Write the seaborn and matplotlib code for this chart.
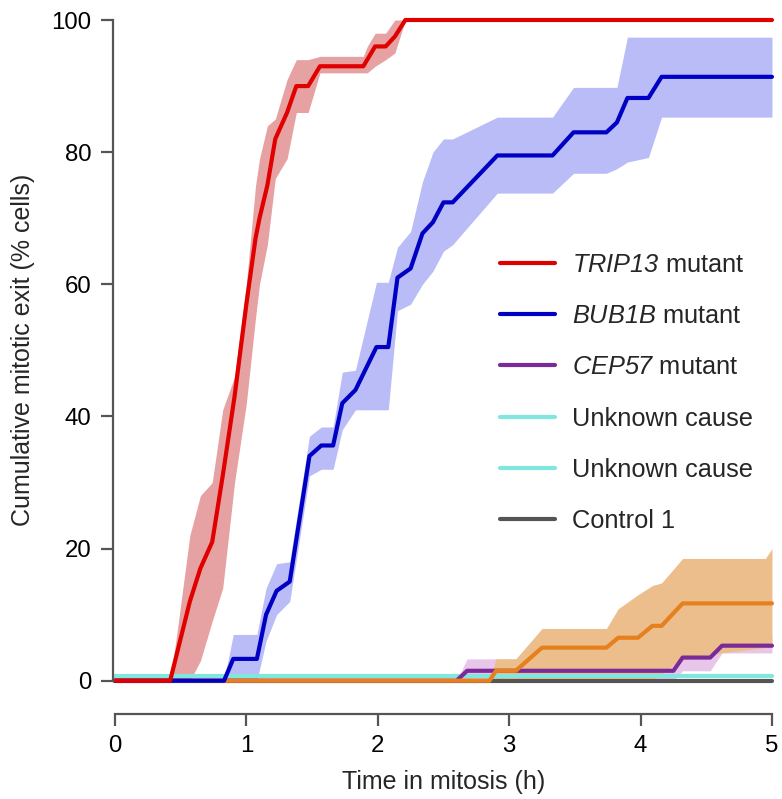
import pandas as pd
import seaborn as sns
import matplotlib.pyplot as plt

# TRIP13 mutant
trip_x = [0, 0.42, 0.47, 0.57, 0.65, 0.74, 0.82, 0.91, 1.0, 1.07, 1.10, 1.16, 1.22, 1.31, 1.38, 1.47, 1.56, 1.89, 1.92, 1.98, 2.06, 2.13, 2.21, 5.0]
trip_y = [0, 0, 4, 12, 17, 21, 31, 43, 57, 67, 70, 75, 82, 86, 90, 90, 93, 93, 94, 96, 96, 97.5, 100, 100]
trip_lo = [0, 0, 0, 0, 3, 9, 14, 30, 42, 55, 60, 66, 76, 79, 86, 86, 92, 92, 92, 93, 94, 95, 100, 100]
trip_hi = [0, 0, 7, 22, 28, 30, 41, 46, 60, 75, 79, 84, 85, 91, 94, 94, 94.5, 94.5, 96, 98, 98, 100, 100, 100]

# BUB1B mutant
bub_x = [0, 0.83, 0.90, 1.08, 1.15, 1.23, 1.33, 1.48, 1.57, 1.66, 1.73, 1.83, 1.99, 2.08, 2.15, 2.25, 2.34, 2.42, 2.50, 2.57, 2.91, 3.33, 3.49, 3.74, 3.82, 3.90, 4.06, 4.16, 5.0]
bub_y = [0, 0, 3.3, 3.3, 10, 13.6, 15, 34, 35.6, 35.6, 42, 44, 50.5, 50.5, 61, 62.4, 67.7, 69.4, 72.4, 72.4, 79.5, 79.5, 83, 83, 84.5, 88.2, 88.2, 91.4, 91.4]
bub_lo = [0, 0, 0, 0, 6, 10, 12, 31, 32, 32, 38, 41, 41, 41, 56, 57, 60, 62, 65, 66, 73.8, 73.8, 76.8, 76.8, 77.5, 78.5, 79.2, 85.3, 85.3]
bub_hi = [0, 0, 7, 7, 14, 17.7, 18, 37, 38.4, 38.4, 46.7, 47, 60.3, 60.3, 65.6, 68, 75.5, 80, 82, 82, 85.3, 85.3, 89.8, 89.8, 89.8, 97.4, 97.4, 97.4, 97.4]

# CEP57 mutant
cep_x = [0, 2.60, 2.68, 4.25, 4.32, 4.53, 4.62, 5.0]
cep_y = [0, 0, 1.5, 1.5, 3.5, 3.5, 5.3, 5.3]
cep_lo = [0, 0, 0, 0, 1.5, 1.5, 4.2, 4.2]
cep_hi = [0, 0, 3.3, 3.3, 5, 5, 6.5, 6.5]

# Unknown cause (orange)
unk_x = [0, 2.85, 2.90, 3.05, 3.25, 3.74, 3.83, 3.98, 4.09, 4.16, 4.32, 4.95, 5.0]
unk_y = [0, 0, 1.5, 1.5, 5, 5, 6.5, 6.5, 8.3, 8.3, 11.7, 11.7, 11.7]
unk_lo = [0, 0, 0, 0, 0, 0, 0, 0, 0, 1, 3.5, 5, 5]
unk_hi = [0, 0, 3.3, 3.3, 7.9, 7.9, 10.9, 13, 14.4, 14.8, 18.5, 18.5, 20]

# Unknown cause (cyan) and Control 1
flat_x = [0, 5.0]
cyan_y = [0.7, 0.7]
ctrl_y = [0, 0]

labels = [r"$TRIP13$ mutant", r"$BUB1B$ mutant", r"$CEP57$ mutant",
          "Unknown cause", "Unknown cause", "Control 1"]

sns.set_style("ticks")
plt.rcParams["font.family"] = ["Liberation Sans", "DejaVu Sans"]
plt.rcParams["mathtext.fontset"] = "custom"
plt.rcParams["mathtext.it"] = "Liberation Sans:italic"
plt.rcParams["mathtext.rm"] = "Liberation Sans:italic"

fig = plt.figure(figsize=(7.82, 7.99), dpi=100)
ax = fig.add_axes([113 / 782, 1 - 687.3 / 799, (774.6 - 113) / 782, (687.3 - 13.4) / 799])

lw = 3.0
# bands
ax.fill_between(cep_x, cep_lo, cep_hi, color="#e8c6ea", lw=0, zorder=1)
ax.fill_between(unk_x, unk_lo, unk_hi, color="#ecbe8c", lw=0, zorder=1.1)
ax.fill_between(bub_x, bub_lo, bub_hi, color="#b9bcf7", lw=0, zorder=1.2)
ax.fill_between(trip_x, trip_lo, trip_hi, color="#e6a2a2", lw=0, zorder=1.3)

series = [
    (flat_x, ctrl_y, "#555555", labels[5], 2),
    (flat_x, cyan_y, "#80e6de", labels[4], 2.1),
    (cep_x, cep_y, "#7b2b98", labels[2], 2.2),
    (unk_x, unk_y, "#e6801e", labels[3], 2.3),
    (bub_x, bub_y, "#0000c4", labels[1], 2.4),
    (trip_x, trip_y, "#e00000", labels[0], 2.5),
]
for x, y, c, lab, z in series:
    df = pd.DataFrame({"x": x, "y": y})
    sns.lineplot(data=df, x="x", y="y", color=c, lw=lw, label=lab, ax=ax,
                 zorder=z, sort=False, estimator=None)

ax.set_xlim(-0.015, 5.02)
ax.set_ylim(-1, 101)
ax.set_xticks([0, 1, 2, 3, 4, 5])
ax.set_yticks([0, 20, 40, 60, 80, 100])
sns.despine(ax=ax)
ax.spines["bottom"].set_position(("outward", 19))
ax.spines["bottom"].set_bounds(0, 5)
ax.spines["left"].set_bounds(0, 100)
for s in ["left", "bottom"]:
    ax.spines[s].set_color("#555555")
    ax.spines[s].set_linewidth(1.6)
ax.tick_params(axis="both", length=8.5, width=1.6, color="#555555",
               labelsize=17.3, labelcolor="black", pad=7)

ax.set_xlabel("Time in mitosis (h)", fontsize=18, labelpad=9)
ax.set_ylabel("Cumulative mitotic exit (% cells)", fontsize=18, labelpad=12)

h, l = ax.get_legend_handles_labels()
order = [l.index(t) for t in labels]
leg = ax.legend([h[i] for i in order], [l[i] for i in order],
                loc="upper left", bbox_to_anchor=(500 / 782, 1 - 253 / 799),
                bbox_transform=fig.transFigure, frameon=False, fontsize=18.3,
                handlelength=2.15, handletextpad=0.7, labelspacing=1.07,
                borderpad=0, borderaxespad=0)
for line in leg.get_lines():
    line.set_linewidth(3.0)

fig.savefig("out.png", dpi=100)
